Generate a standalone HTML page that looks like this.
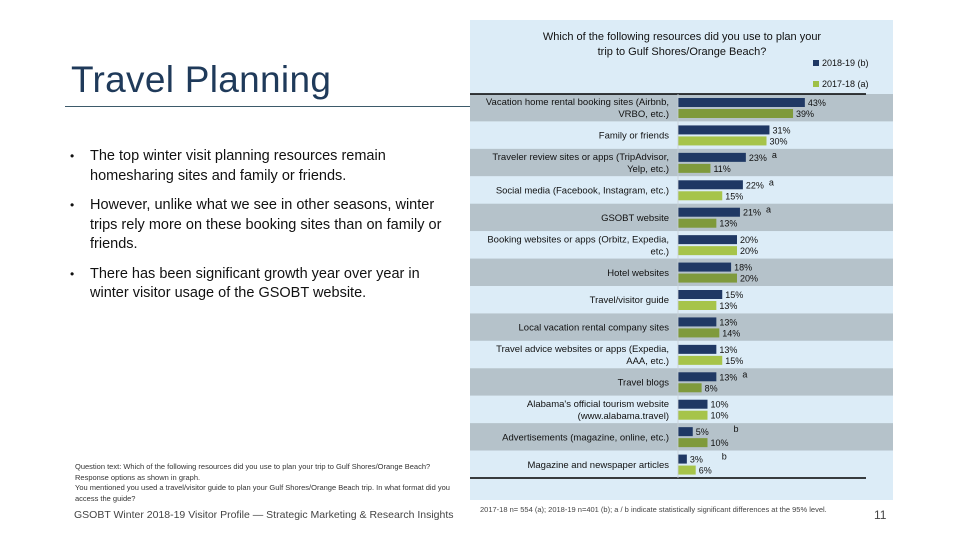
<!DOCTYPE html>
<html><head><meta charset="utf-8"><style>
body{margin:0;width:960px;height:540px;background:#fff;overflow:hidden;position:relative;font-family:"Liberation Sans",sans-serif}
.abs{position:absolute}
#title{left:71px;top:59px;font-size:37px;color:#1f3a5a;letter-spacing:0.3px}
#rule{left:65px;top:106px;width:408px;height:1px;background:#3d5a6a}
ul{position:absolute;left:70px;top:147px;width:390px;margin:0;padding:0;list-style:none;font-size:14.5px;color:#111;line-height:19.5px}
li{padding-left:20px;text-indent:-20px;margin-bottom:10px}
li:before{content:"•";display:inline-block;width:20px;text-indent:0;font-size:12px}
#notes{left:75px;top:462px;font-size:7.5px;color:#333;line-height:10.5px;width:400px}
#foot{left:74px;top:509px;font-size:10.5px;color:#444}
#src{left:480px;top:505px;font-size:7.5px;color:#444}
#pg{left:874px;top:508px;font-size:12px;color:#444}
</style></head><body>
<div class="abs" id="title">Travel Planning</div>
<div class="abs" id="rule"></div>
<ul>
<li>The top winter visit planning resources remain homesharing sites and family or friends.</li>
<li>However, unlike what we see in other seasons, winter trips rely more on these booking sites than on family or friends.</li>
<li>There has been significant growth year over year in winter visitor usage of the GSOBT website.</li>
</ul>
<div class="abs" id="notes">Question text: Which of the following resources did you use to plan your trip to Gulf Shores/Orange Beach?<br>Response options as shown in graph.<br>You mentioned you used a travel/visitor guide to plan your Gulf Shores/Orange Beach trip. In what format did you access the guide?</div>
<div class="abs" id="foot">GSOBT Winter 2018-19 Visitor Profile — Strategic Marketing &amp; Research Insights</div>
<div class="abs" id="src">2017-18 n= 554 (a); 2018-19 n=401 (b); a / b indicate statistically significant differences at the 95% level.</div>
<div class="abs" id="pg">11</div>
<svg class="abs" style="left:0;top:0" width="960" height="540" id="chart"></svg>
<script>
const categories=[["Vacation home rental booking sites (Airbnb,","VRBO, etc.)"],["Family or friends"],["Traveler review sites or apps (TripAdvisor,","Yelp, etc.)"],["Social media (Facebook, Instagram, etc.)"],["GSOBT website"],["Booking websites or apps (Orbitz, Expedia,","etc.)"],["Hotel websites"],["Travel/visitor guide"],["Local vacation rental company sites"],["Travel advice websites or apps (Expedia,","AAA, etc.)"],["Travel blogs"],["Alabama's official tourism website","(www.alabama.travel)"],["Advertisements (magazine, online, etc.)"],["Magazine and newspaper articles"]];
const values2019=[43,31,23,22,21,20,18,15,13,13,13,10,5,3];
const values2018=[39,30,11,15,13,20,20,13,14,15,8,10,10,6];
const sigMarks=["","","a","a","a","","","","","","a","","b","b"];
const seriesNames=["2018-19 (b)","2017-18 (a)"];
const svg=document.getElementById('chart');const NS="http://www.w3.org/2000/svg";
function mk(t,a,p){const e=document.createElementNS(NS,t);for(const k in a)e.setAttribute(k,a[k]);(p||svg).appendChild(e);return e;}
const x0=678,pxPer=2.95,top0=94,rowH=(478-94)/categories.length;
const xs=v=>x0+v*pxPer;const ys=i=>top0+i*rowH;
let e=mk('rect',{x:470,y:20,width:423,height:480,fill:'#dcecf7'});

e=mk('text',{x:682,y:40,'text-anchor':'middle','font-size':11,fill:'#111'});e.textContent="Which of the following resources did you use to plan your";

e=mk('text',{x:682,y:55,'text-anchor':'middle','font-size':11,fill:'#111'});e.textContent="trip to Gulf Shores/Orange Beach?";

[['#1f3864',66],['#9fc046',87]].forEach((c,k)=>{
 e=mk('rect',{x:813,y:c[1]-6,width:6,height:6,fill:c[0]});
 
 e=mk('text',{x:822,y:c[1],'font-size':9,fill:'#111'});e.textContent=seriesNames[k];
 
});
categories.forEach((c,i)=>{
 const y=ys(i),gray=i%2==0;
 e=mk('rect',{x:470,y:y,width:423,height:rowH,fill:gray?'#b5c2ca':'#dcecf7'});
 
 const n=c.length;
 c.forEach((line,j)=>{
  e=mk('text',{x:669,y:y+rowH/2+3.5+(j-(n-1)/2)*12,'text-anchor':'end','font-size':9.5,fill:'#111'});e.textContent=line;
  
 });
 e=mk('rect',{x:x0,y:y+4,width:xs(values2019[i])-x0,height:9,fill:'#1f3864'});
 
 e=mk('rect',{x:x0,y:y+15,width:xs(values2018[i])-x0,height:9,fill:gray?'#7f9a3c':'#a6c44a'});
 
 e=mk('text',{x:xs(values2019[i])+3,y:y+12,'font-size':9,fill:'#111'});e.textContent=values2019[i]+"%";
 
 e=mk('text',{x:xs(values2018[i])+3,y:y+23,'font-size':9,fill:'#111'});e.textContent=values2018[i]+"%";
 
 if(sigMarks[i]){const m=Math.max(values2019[i],values2018[i]);
  e=mk('text',{x:xs(m)+26,y:y+9,'font-size':9,fill:'#111'});e.textContent=sigMarks[i];
  }
});
e=mk('line',{x1:470,x2:866,y1:94,y2:94,stroke:'#000','stroke-width':1.5});

e=mk('line',{x1:470,x2:866,y1:478,y2:478,stroke:'#000','stroke-width':1.5});

e=mk('line',{x1:x0,x2:x0,y1:94,y2:478,stroke:'#c8d0d6','stroke-width':0.8});

</script>
</body></html>
